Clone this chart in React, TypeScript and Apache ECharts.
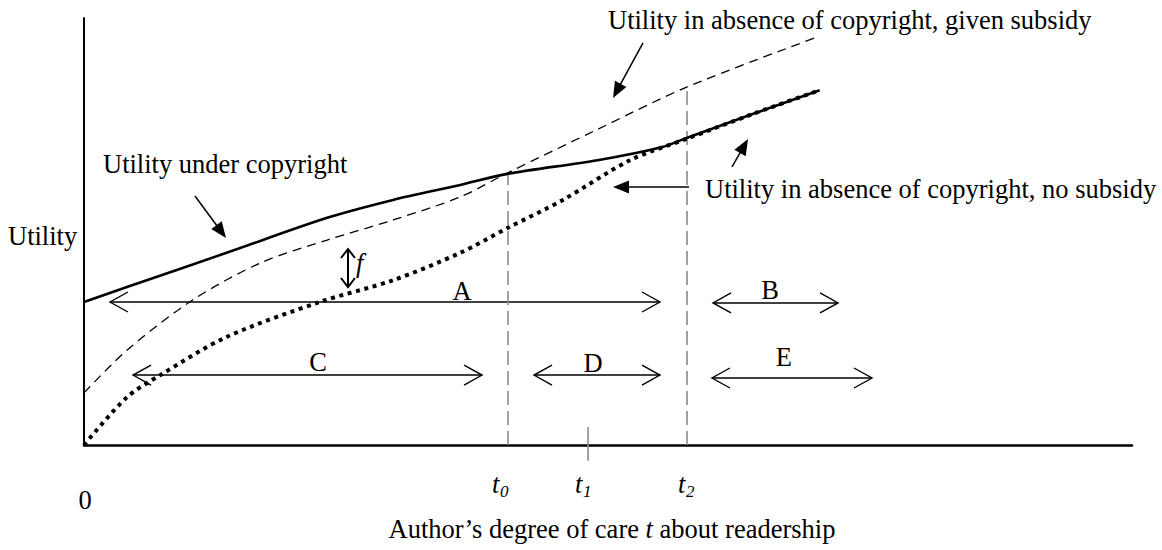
import React, { useEffect, useRef } from "react";
import * as echarts from "echarts";

// ---- Data (care t on a 0–100 scale, utility on a 0–100 scale) ----
const careCopyright = [0, 4.1, 13.6, 23.2, 29.5, 35.9, 40.4, 49.0, 55.2, 57.5, 63.8, 70.2];
const utilCopyright = [33.5, 37.0, 45.0, 53.2, 57.4, 60.9, 63.5, 66.7, 69.8, 71.9, 77.5, 83.1];

const careSubsidy = [0, 4.1, 10.4, 16.8, 23.2, 29.5, 35.9, 40.4, 48.9, 57.5, 69.7];
const utilSubsidy = [12.2, 22.2, 34.0, 42.6, 48.0, 52.7, 58.1, 63.7, 73.8, 83.8, 95.3];

const careNoSubsidy = [0, 4.1, 7.3, 13.6, 22.5, 29.5, 35.9, 40.4, 45.7, 52.1, 57.5, 63.8, 70.2];
const utilNoSubsidy = [0, 11.2, 16.4, 25.3, 33.5, 38.6, 45.0, 50.8, 57.4, 66.7, 71.7, 77.5, 83.1];

// thresholds t0, t1, t2
const thresholdSubs = ["0", "1", "2"];
const thresholdCare = [40.46, 48.1, 57.54];
const thresholdTop = [63.5, 4.2, 83.8];

// ranges A–E (double-headed arrows)
const rangeLabels = ["A", "B", "C", "D", "E"];
const rangeStart = [2.48, 60.02, 4.68, 42.94, 59.92];
const rangeEnd = [54.96, 71.95, 37.98, 54.96, 75.19];
const rangeLevel = [33.49, 33.26, 16.39, 16.39, 15.69];

// gap f between subsidy curve and no-subsidy curve
const fCare = 25.19;
const fTop = 45.9;
const fBottom = 37.0;

// pointer arrows (tail -> tip)
const pointerTailCare = [10.59, 53.34, 57.73, 61.83];
const pointerTailUtil = [58.31, 94.15, 60.42, 65.11];
const pointerTipCare = [13.55, 50.48, 50.48, 63.36];
const pointerTipUtil = [48.48, 81.26, 60.42, 71.66];

// texts
const curveLabels = [
  "Utility under copyright",
  "Utility in absence of copyright, given subsidy",
  "Utility in absence of copyright, no subsidy",
];
const yAxisTitle = "Utility";
const originLabel = "0";

// ---- layout (not data) ----
const FONT = '"Liberation Serif", "Times New Roman", Times, serif';
const FS = 26.5;
const rangeLabelPos: [number, number][] = [
  [36.07, 36.07],
  [65.46, 36.3],
  [22.33, 19.44],
  [48.57, 19.2],
  [66.79, 20.61],
];

function txt(text: string, x: number, y: number, align: string, extra: any = {}) {
  return {
    type: "text",
    x,
    y,
    silent: true,
    style: {
      text,
      fill: "#000",
      fontFamily: FONT,
      fontSize: FS,
      align,
      textAlign: align,
      verticalAlign: "middle",
      textVerticalAlign: "middle",
      ...extra,
    },
  };
}

export default function App() {
  const ref = useRef<HTMLDivElement>(null);

  useEffect(() => {
    if (!ref.current) return;
    const chart = echarts.init(ref.current, undefined, { renderer: "svg" });

    const zip = (a: number[], b: number[]) => a.map((v, i) => [v, b[i]]);

    const option: any = {
      animation: false,
      grid: { left: 84, right: 30, top: 18, bottom: 105, containLabel: false },
      xAxis: {
        type: "value",
        min: 0,
        max: 100,
        axisLine: { show: true, onZero: false, lineStyle: { color: "#000", width: 2.6 } },
        axisTick: { show: false },
        axisLabel: { show: false },
        splitLine: { show: false },
      },
      yAxis: {
        type: "value",
        min: 0,
        max: 100,
        axisLine: { show: true, lineStyle: { color: "#000", width: 2 } },
        axisTick: { show: false },
        axisLabel: { show: false },
        splitLine: { show: false },
      },
      series: [
        // vertical threshold lines t0, t2 (gray dashed)
        ...[0, 2].map((k) => ({
          type: "line",
          silent: true,
          symbol: "none",
          clip: false,
          data: [
            [thresholdCare[k], 0],
            [thresholdCare[k], thresholdTop[k]],
          ],
          lineStyle: { color: "#8c8c8c", width: 1.6, type: [14, 6] },
        })),
        // t1 tick
        {
          type: "line",
          silent: true,
          symbol: "none",
          clip: false,
          data: [
            [thresholdCare[1], -3.7],
            [thresholdCare[1], thresholdTop[1]],
          ],
          lineStyle: { color: "#8c8c8c", width: 1.6 },
        },
        {
          name: curveLabels[1],
          type: "line",
          silent: true,
          symbol: "none",
          smooth: 0.3,
          data: zip(careSubsidy, utilSubsidy),
          lineStyle: { color: "#000", width: 1.3, type: [9, 6] },
        },
        {
          name: curveLabels[0],
          type: "line",
          silent: true,
          symbol: "none",
          smooth: 0.3,
          data: zip(careCopyright, utilCopyright),
          lineStyle: { color: "#000", width: 2.6 },
        },
        {
          name: curveLabels[2],
          type: "line",
          silent: true,
          symbol: "none",
          smooth: 0.3,
          data: zip(careNoSubsidy, utilNoSubsidy),
          lineStyle: { color: "#000", width: 4, type: [4, 4.6], cap: "butt" },
        },
        // range arrows A–E
        {
          type: "custom",
          silent: true,
          clip: false,
          data: rangeLabels.map((_, i) => [rangeStart[i], rangeLevel[i], rangeEnd[i]]),
          renderItem: (params: any, api: any) => {
            const i = params.dataIndex;
            const y = api.value(1);
            const a = api.coord([api.value(0), y]);
            const b = api.coord([api.value(2), y]);
            const lp = api.coord(rangeLabelPos[i]);
            const L = 18;
            const W = 10;
            const st = { stroke: "#000", lineWidth: 1.4, fill: null };
            return {
              type: "group",
              children: [
                { type: "line", shape: { x1: a[0], y1: a[1], x2: b[0], y2: b[1] }, style: st },
                {
                  type: "polyline",
                  shape: { points: [[a[0] + L, a[1] - W], [a[0], a[1]], [a[0] + L, a[1] + W]] },
                  style: st,
                },
                {
                  type: "polyline",
                  shape: { points: [[b[0] - L, b[1] - W], [b[0], b[1]], [b[0] - L, b[1] + W]] },
                  style: st,
                },
                txt(rangeLabels[i], lp[0], lp[1], "center"),
              ],
            };
          },
        },
        // f arrow
        {
          type: "custom",
          silent: true,
          clip: false,
          data: [[fCare, fTop, fBottom]],
          renderItem: (_params: any, api: any) => {
            const a = api.coord([api.value(0), api.value(1)]);
            const b = api.coord([api.value(0), api.value(2)]);
            const L = 9;
            const W = 7;
            const st = { stroke: "#000", lineWidth: 2, fill: null };
            return {
              type: "group",
              children: [
                { type: "line", shape: { x1: a[0], y1: a[1], x2: b[0], y2: b[1] }, style: st },
                {
                  type: "polyline",
                  shape: { points: [[a[0] - W, a[1] + L], [a[0], a[1]], [a[0] + W, a[1] + L]] },
                  style: st,
                },
                {
                  type: "polyline",
                  shape: { points: [[b[0] - W, b[1] - L], [b[0], b[1]], [b[0] + W, b[1] - L]] },
                  style: st,
                },
                txt("f", a[0] + 8, (a[1] + b[1]) / 2 - 5, "left", { fontStyle: "italic" }),
              ],
            };
          },
        },
        // pointer arrows
        {
          type: "custom",
          silent: true,
          clip: false,
          data: pointerTailCare.map((_, i) => [
            pointerTailCare[i],
            pointerTailUtil[i],
            pointerTipCare[i],
            pointerTipUtil[i],
          ]),
          renderItem: (_params: any, api: any) => {
            const a = api.coord([api.value(0), api.value(1)]);
            const b = api.coord([api.value(2), api.value(3)]);
            const dx = b[0] - a[0];
            const dy = b[1] - a[1];
            const len = Math.sqrt(dx * dx + dy * dy) || 1;
            const ux = dx / len;
            const uy = dy / len;
            const L = 16;
            const W = 6.5;
            const bx = b[0] - ux * L;
            const by = b[1] - uy * L;
            const nx = -uy;
            const ny = ux;
            return {
              type: "group",
              children: [
                {
                  type: "line",
                  shape: { x1: a[0], y1: a[1], x2: bx + ux * 2, y2: by + uy * 2 },
                  style: { stroke: "#000", lineWidth: 1.5 },
                },
                {
                  type: "polygon",
                  shape: {
                    points: [
                      [b[0], b[1]],
                      [bx + nx * W, by + ny * W],
                      [bx - nx * W, by - ny * W],
                    ],
                  },
                  style: { fill: "#000", stroke: null },
                },
              ],
            };
          },
        },
      ],
      graphic: [
        txt(curveLabels[0], 103, 164, "left"),
        txt(curveLabels[1], 608, 20, "left"),
        txt(curveLabels[2], 705, 189, "left"),
        txt(yAxisTitle, 8, 236, "left"),
        txt(originLabel, 85, 500, "center"),
        ...thresholdSubs.flatMap((s, k) => {
          const lefts = [492, 575, 678];
          return [
            txt("t", lefts[k], 484, "left", { fontStyle: "italic" }),
            txt(s, lefts[k] + 8, 491, "left", { fontStyle: "italic", fontSize: 17 }),
          ];
        }),
        txt("Author’s degree of care {it|t} about readership", 612, 529, "center", {
          rich: {
            it: { fontStyle: "italic", fontFamily: FONT, fontSize: FS, fill: "#000" },
          },
        }),
      ],
    };

    chart.setOption(option);
    return () => chart.dispose();
  }, []);

  return (
    <div
      ref={ref}
      style={{ position: "absolute", left: 0, top: 0, width: 1162, height: 550, background: "#fff" }}
    />
  );
}
